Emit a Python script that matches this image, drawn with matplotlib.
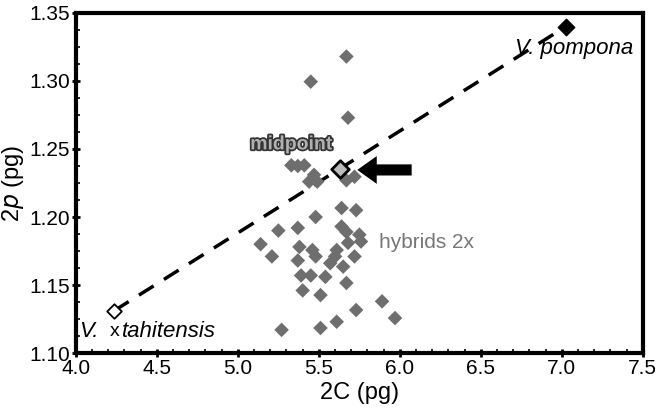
import matplotlib
matplotlib.use("Agg")
import matplotlib.pyplot as plt
import matplotlib.patheffects as pe
from matplotlib.ticker import AutoMinorLocator

# Data
hyb_x = [5.33, 5.41, 5.37, 5.47, 5.44, 5.49, 5.67, 5.72, 5.64, 5.73,
         5.48, 5.25, 5.37, 5.64, 5.67, 5.75, 5.76, 5.14, 5.38, 5.46,
         5.61, 5.68, 5.21, 5.37, 5.48, 5.60, 5.72, 5.57, 5.65, 5.39,
         5.45, 5.54, 5.67, 5.40, 5.51, 5.89, 5.73, 5.97, 5.61, 5.51,
         5.27, 5.67, 5.45, 5.68]
hyb_y = [1.238, 1.238, 1.2375, 1.231, 1.226, 1.226, 1.227, 1.2296, 1.2066, 1.205,
         1.200, 1.190, 1.192, 1.193, 1.189, 1.187, 1.182, 1.180, 1.178, 1.1757,
         1.1757, 1.181, 1.171, 1.168, 1.171, 1.171, 1.171, 1.166, 1.1635, 1.157,
         1.157, 1.156, 1.1515, 1.146, 1.1426, 1.138, 1.1316, 1.1257, 1.123, 1.1184,
         1.117, 1.318, 1.2995, 1.273]
tah = (4.235, 1.131)
pom = (7.024, 1.340)
mid = ((tah[0] + pom[0]) / 2, (tah[1] + pom[1]) / 2)

xticks = [4.0, 4.5, 5.0, 5.5, 6.0, 6.5, 7.0, 7.5]
yticks = [1.10, 1.15, 1.20, 1.25, 1.30, 1.35]

plt.rcParams['font.family'] = ['Liberation Sans', 'DejaVu Sans']

fig = plt.figure(figsize=(6.6, 4.19), dpi=100)
ax = fig.add_axes([0.115, 0.1575, 0.859, 0.8115])

ax.plot([tah[0], pom[0]], [tah[1], pom[1]], color='black', lw=2.5,
        dashes=(5, 3.5), zorder=2)
ax.scatter(hyb_x, hyb_y, marker='D', s=55, color='#6e6e6e', edgecolors='none', zorder=3)
ax.scatter([tah[0]], [tah[1]], marker='D', s=55, facecolor='white', edgecolor='black', lw=1.3, zorder=4)
ax.scatter([pom[0]], [pom[1]], marker='D', s=70, facecolor='black', edgecolor='black', zorder=4)
ax.scatter([mid[0]], [mid[1]], marker='D', s=80, facecolor='#bbbbbb', edgecolor='black', lw=2, zorder=5)

ax.annotate('', xy=(5.72, 1.2346), xytext=(6.09, 1.2346),
            arrowprops=dict(arrowstyle='simple,head_length=1.4,head_width=2.0,tail_width=0.8',
                            color='black', lw=0), zorder=6)

ax.text(5.33, 1.253, 'midpoint', ha='center', va='center', fontsize=14, fontweight='bold',
        color='#b0b0b0',
        path_effects=[pe.withStroke(linewidth=2.5, foreground='#333333')], zorder=7)
ax.text(5.87, 1.181, 'hybrids 2x', ha='left', va='center', fontsize=15, color='#777777')
ax.text(6.71, 1.324, 'V. pompona', ha='left', va='center', fontsize=16, style='italic')
ax.text(4.02, 1.116, 'V.', ha='left', va='center', fontsize=16, style='italic')
ax.text(4.21, 1.116, 'x', ha='left', va='center', fontsize=14)
ax.text(4.283, 1.116, 'tahitensis', ha='left', va='center', fontsize=16, style='italic')

ax.set_xlim(4.0, 7.5)
ax.set_ylim(1.10, 1.35)
ax.set_xticks(xticks)
ax.set_xticklabels([f'{v:.1f}' for v in xticks])
ax.set_yticks(yticks)
ax.set_yticklabels([f'{v:.2f}' for v in yticks])
ax.xaxis.set_minor_locator(AutoMinorLocator(5))
ax.yaxis.set_minor_locator(AutoMinorLocator(4))
ax.tick_params(which='major', direction='inout', length=6, width=2, labelsize=15, pad=1)
ax.tick_params(which='minor', direction='in', length=3, width=1.2)
for s in ax.spines.values():
    s.set_linewidth(3)

ax.set_xlabel('2C (pg)', fontsize=17, labelpad=3)
ax.set_ylabel('2$\\it{p}$ (pg)', fontsize=17)
ax.yaxis.set_label_coords(-0.088, 0.5)

fig.savefig('out.png', dpi=100)
